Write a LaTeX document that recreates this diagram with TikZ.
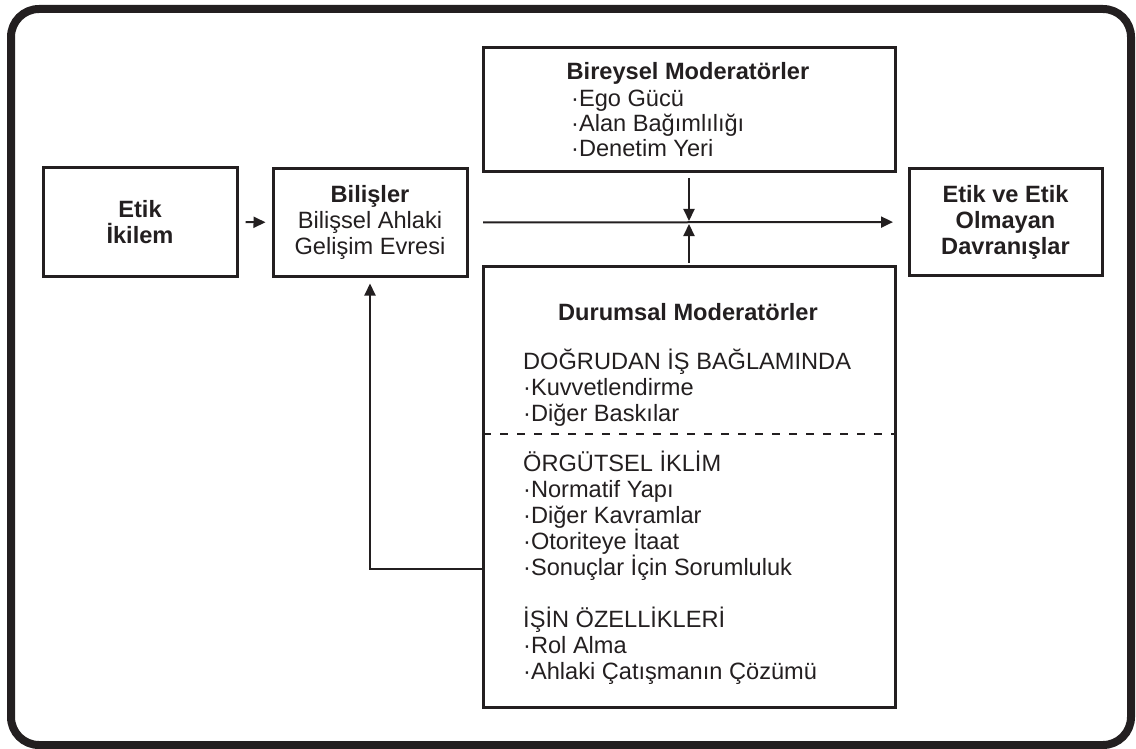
\documentclass[tikz,border=0pt]{standalone}
\usepackage{fontspec}
\setmainfont{Liberation Sans}
\usetikzlibrary{arrows.meta}
\definecolor{ink}{HTML}{231F20}
\newcommand\dgfont{\fontsize{23.6}{26}\selectfont}
\begin{document}
\begin{tikzpicture}[x=1pt,y=-1pt,
  box/.style={draw=ink,line width=3pt,inner sep=0pt,align=center,font=\dgfont,text=ink},
  lbl/.style={inner sep=0pt,font=\dgfont,text=ink},
  arr/.style={draw=ink,line width=2pt,-{Triangle[length=12pt,width=11pt]}},
  divider/.style={draw=ink,line width=2.5pt,dash pattern=on 8pt off 9pt}
]
\useasboundingbox (0,0) rectangle (1136,749);
% outer frame
\draw[ink,line width=8pt,rounded corners=28pt] (11,9) rectangle (1131,745);

% main boxes
\node[box,minimum width=194pt,minimum height=108pt] (dilemma) at (140,222)
  {\textbf{Etik}\\\textbf{İkilem}};
\node[box,minimum width=194pt,minimum height=107pt] (cog) at (370,222.5)
  {\textbf{Bilişler}\\Bilişsel Ahlaki\\Gelişim Evresi};
\node[box,minimum width=193pt,minimum height=106pt] (behav) at (1005.5,222)
  {\textbf{Etik ve Etik}\\\textbf{Olmayan}\\\textbf{Davranışlar}};
\node[box,minimum width=412pt,minimum height=124pt] (indiv) at (689,110) {};
\node[box,minimum width=412pt,minimum height=441pt] (situ) at (689,486.5) {};

% individual moderators
\node[lbl,anchor=base] (indivT) at (688,80) {\textbf{Bireysel Moderatörler}};
\node[lbl,anchor=base west] (ego) at (571,107) {·Ego Gücü};
\node[lbl,anchor=base west] (field) at (571,132) {·Alan Bağımlılığı};
\node[lbl,anchor=base west] (locus) at (571,157) {·Denetim Yeri};

% situational moderators
\node[lbl,anchor=base] (situT) at (688,320) {\textbf{Durumsal Moderatörler}};
\node[lbl,anchor=base west] (h1) at (523,369) {DOĞRUDAN İŞ BAĞLAMINDA};
\node[lbl,anchor=base west] (h1a) at (523,395) {·Kuvvetlendirme};
\node[lbl,anchor=base west] (h1b) at (523,421) {·Diğer Baskılar};
\draw[divider] (483,434) -- (895,434);
\node[lbl,anchor=base west] (h2) at (523,471) {ÖRGÜTSEL İKLİM};
\node[lbl,anchor=base west] (h2a) at (523,497) {·Normatif Yapı};
\node[lbl,anchor=base west] (h2b) at (523,523) {·Diğer Kavramlar};
\node[lbl,anchor=base west] (h2c) at (523,549) {·Otoriteye İtaat};
\node[lbl,anchor=base west] (h2d) at (523,575) {·Sonuçlar İçin Sorumluluk};
\node[lbl,anchor=base west] (h3) at (523,627) {İŞİN ÖZELLİKLERİ};
\node[lbl,anchor=base west] (h3a) at (523,653) {·Rol Alma};
\node[lbl,anchor=base west] (h3b) at (523,679) {·Ahlaki Çatışmanın Çözümü};

% connectors
\coordinate (cross) at (689,222);
\coordinate (fbk) at (481.5,569);
\draw[arr,shorten <=7pt,shorten >=6pt] (dilemma) -- (cog);
\draw[arr,shorten <=14.5pt,shorten >=14.5pt] (cog) -- (behav);
\draw[arr,shorten <=4.5pt,shorten >=1pt] (indiv) -- (cross);
\draw[arr,shorten <=2pt,shorten >=2pt] (situ) -- (cross);
\draw[arr,shorten >=6pt] (fbk) -| (cog.south);
\end{tikzpicture}
\end{document}
